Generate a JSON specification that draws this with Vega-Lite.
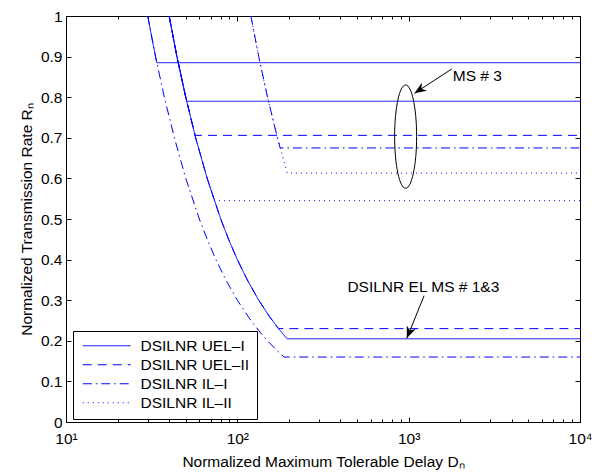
{
  "$schema": "https://vega.github.io/schema/vega-lite/v6.json",
  "width": 514,
  "height": 406,
  "autosize": "none",
  "padding": {"left": 66, "top": 16, "right": 12, "bottom": 51},
  "background": "white",
  "config": {
    "font": "Liberation Sans",
    "view": {"stroke": null},
    "axis": {
      "grid": false,
      "domainColor": "black",
      "domainWidth": 1,
      "tickColor": "black",
      "tickWidth": 1,
      "labelColor": "black",
      "labelFont": "Liberation Sans",
      "labelFontSize": 15.5,
      "titleFont": "Liberation Sans",
      "titleFontSize": 15.5,
      "titleFontWeight": "normal",
      "titleColor": "black"
    },
    "legend": {
      "orient": "none",
      "legendX": 7,
      "legendY": 315,
      "title": null,
      "symbolType": "M-1.67,0H14.33",
      "symbolSize": 36,
      "symbolStrokeColor": "#0000ff",
      "symbolStrokeWidth": 1,
      "labelFont": "Liberation Sans",
      "labelFontSize": 15.5,
      "labelColor": "black",
      "labelOffset": 45,
      "padding": 7,
      "rowPadding": 2,
      "strokeColor": "black",
      "fillColor": "white"
    }
  },
  "datasets": {
    "lines": [
      {"line": "A", "s": "DSILNR UEL–I", "D": 30, "R": 1},
      {"line": "A", "s": "DSILNR UEL–I", "D": 31.9, "R": 0.94},
      {"line": "A", "s": "DSILNR UEL–I", "D": 33.9, "R": 0.885},
      {"line": "A", "s": "DSILNR UEL–I", "D": 10000, "R": 0.885},
      {"line": "B", "s": "DSILNR UEL–I", "D": 40, "R": 1},
      {"line": "B", "s": "DSILNR UEL–I", "D": 44.4, "R": 0.9},
      {"line": "B", "s": "DSILNR UEL–I", "D": 50.6, "R": 0.79},
      {"line": "B", "s": "DSILNR UEL–I", "D": 10000, "R": 0.79},
      {"line": "C", "s": "DSILNR UEL–I", "D": 40, "R": 1},
      {"line": "C", "s": "DSILNR UEL–I", "D": 44.4, "R": 0.9},
      {"line": "C", "s": "DSILNR UEL–I", "D": 50, "R": 0.8},
      {"line": "C", "s": "DSILNR UEL–I", "D": 57.1, "R": 0.7},
      {"line": "C", "s": "DSILNR UEL–I", "D": 66.7, "R": 0.6},
      {"line": "C", "s": "DSILNR UEL–I", "D": 80, "R": 0.5},
      {"line": "C", "s": "DSILNR UEL–I", "D": 88.9, "R": 0.45},
      {"line": "C", "s": "DSILNR UEL–I", "D": 100, "R": 0.4},
      {"line": "C", "s": "DSILNR UEL–I", "D": 114.3, "R": 0.35},
      {"line": "C", "s": "DSILNR UEL–I", "D": 133.3, "R": 0.3},
      {"line": "C", "s": "DSILNR UEL–I", "D": 153.8, "R": 0.26},
      {"line": "C", "s": "DSILNR UEL–I", "D": 173.9, "R": 0.23},
      {"line": "C", "s": "DSILNR UEL–I", "D": 195, "R": 0.205},
      {"line": "C", "s": "DSILNR UEL–I", "D": 10000, "R": 0.205},
      {"line": "D", "s": "DSILNR UEL–II", "D": 40, "R": 1},
      {"line": "D", "s": "DSILNR UEL–II", "D": 44.4, "R": 0.9},
      {"line": "D", "s": "DSILNR UEL–II", "D": 50, "R": 0.8},
      {"line": "D", "s": "DSILNR UEL–II", "D": 56.7, "R": 0.706},
      {"line": "D", "s": "DSILNR UEL–II", "D": 10000, "R": 0.706},
      {"line": "E", "s": "DSILNR UEL–II", "D": 40, "R": 1},
      {"line": "E", "s": "DSILNR UEL–II", "D": 44.4, "R": 0.9},
      {"line": "E", "s": "DSILNR UEL–II", "D": 50, "R": 0.8},
      {"line": "E", "s": "DSILNR UEL–II", "D": 57.1, "R": 0.7},
      {"line": "E", "s": "DSILNR UEL–II", "D": 66.7, "R": 0.6},
      {"line": "E", "s": "DSILNR UEL–II", "D": 80, "R": 0.5},
      {"line": "E", "s": "DSILNR UEL–II", "D": 88.9, "R": 0.45},
      {"line": "E", "s": "DSILNR UEL–II", "D": 100, "R": 0.4},
      {"line": "E", "s": "DSILNR UEL–II", "D": 114.3, "R": 0.35},
      {"line": "E", "s": "DSILNR UEL–II", "D": 133.3, "R": 0.3},
      {"line": "E", "s": "DSILNR UEL–II", "D": 153.8, "R": 0.26},
      {"line": "E", "s": "DSILNR UEL–II", "D": 173.9, "R": 0.23},
      {"line": "E", "s": "DSILNR UEL–II", "D": 10000, "R": 0.23},
      {"line": "F", "s": "DSILNR IL–I", "D": 30, "R": 1},
      {"line": "F", "s": "DSILNR IL–I", "D": 33.3, "R": 0.9},
      {"line": "F", "s": "DSILNR IL–I", "D": 37.5, "R": 0.8},
      {"line": "F", "s": "DSILNR IL–I", "D": 42.9, "R": 0.7},
      {"line": "F", "s": "DSILNR IL–I", "D": 50, "R": 0.6},
      {"line": "F", "s": "DSILNR IL–I", "D": 60, "R": 0.5},
      {"line": "F", "s": "DSILNR IL–I", "D": 66.7, "R": 0.45},
      {"line": "F", "s": "DSILNR IL–I", "D": 75, "R": 0.4},
      {"line": "F", "s": "DSILNR IL–I", "D": 85.7, "R": 0.35},
      {"line": "F", "s": "DSILNR IL–I", "D": 100, "R": 0.3},
      {"line": "F", "s": "DSILNR IL–I", "D": 120, "R": 0.25},
      {"line": "F", "s": "DSILNR IL–I", "D": 136.4, "R": 0.22},
      {"line": "F", "s": "DSILNR IL–I", "D": 150, "R": 0.2},
      {"line": "F", "s": "DSILNR IL–I", "D": 166.7, "R": 0.18},
      {"line": "F", "s": "DSILNR IL–I", "D": 187.5, "R": 0.16},
      {"line": "F", "s": "DSILNR IL–I", "D": 10000, "R": 0.16},
      {"line": "G", "s": "DSILNR IL–I", "D": 120, "R": 1},
      {"line": "G", "s": "DSILNR IL–I", "D": 133.3, "R": 0.9},
      {"line": "G", "s": "DSILNR IL–I", "D": 150, "R": 0.8},
      {"line": "G", "s": "DSILNR IL–I", "D": 171.4, "R": 0.7},
      {"line": "G", "s": "DSILNR IL–I", "D": 177.8, "R": 0.675},
      {"line": "G", "s": "DSILNR IL–I", "D": 10000, "R": 0.675},
      {"line": "H", "s": "DSILNR IL–II", "D": 120, "R": 1},
      {"line": "H", "s": "DSILNR IL–II", "D": 133.3, "R": 0.9},
      {"line": "H", "s": "DSILNR IL–II", "D": 150, "R": 0.8},
      {"line": "H", "s": "DSILNR IL–II", "D": 171.4, "R": 0.7},
      {"line": "H", "s": "DSILNR IL–II", "D": 195.8, "R": 0.613},
      {"line": "H", "s": "DSILNR IL–II", "D": 10000, "R": 0.613},
      {"line": "I", "s": "DSILNR IL–II", "D": 40, "R": 1},
      {"line": "I", "s": "DSILNR IL–II", "D": 44.4, "R": 0.9},
      {"line": "I", "s": "DSILNR IL–II", "D": 50, "R": 0.8},
      {"line": "I", "s": "DSILNR IL–II", "D": 57.1, "R": 0.7},
      {"line": "I", "s": "DSILNR IL–II", "D": 66.7, "R": 0.6},
      {"line": "I", "s": "DSILNR IL–II", "D": 73.4, "R": 0.545},
      {"line": "I", "s": "DSILNR IL–II", "D": 10000, "R": 0.545}
    ],
    "arrows": [
      {"D": 1785, "R": 0.8695, "D2": 1080, "R2": 0.8096},
      {"D": 1230, "R": 0.311, "D2": 975, "R2": 0.206}
    ],
    "labels": [
      {"t": "MS # 3", "D": 1809, "R": 0.853},
      {"t": "DSILNR EL MS # 1&3", "D": 1218, "R": 0.333}
    ]
  },
  "layer": [
    {
      "data": {"name": "lines"},
      "mark": {"type": "line", "color": "#0000ff", "strokeWidth": 1, "clip": true},
      "encoding": {
        "x": {
          "field": "D", "type": "quantitative",
          "scale": {"type": "log", "domain": [10, 10000], "nice": false},
          "axis": {
            "orient": "bottom",
            "title": "Normalized Maximum Tolerable Delay Dₙ",
            "titlePadding": 6,
            "values": [10,20,30,40,50,60,70,80,90,100,200,300,400,500,600,700,800,900,1000,2000,3000,4000,5000,6000,7000,8000,9000,10000],
            "labelExpr": "datum.value == 10 ? '10¹' : datum.value == 100 ? '10²' : datum.value == 1000 ? '10³' : datum.value == 10000 ? '10⁴' : ''",
            "labelOverlap": false,
            "labelFlush": false,
            "tickSize": {"condition": {"test": "indexof([10,100,1000,10000], datum.value) >= 0", "value": -5}, "value": -3},
            "labelPadding": 14
          }
        },
        "y": {
          "field": "R", "type": "quantitative",
          "scale": {"domain": [0, 1], "nice": false, "zero": true},
          "axis": {
            "orient": "left",
            "title": "Normalized Transmission Rate Rₙ",
            "titlePadding": 6,
            "values": [0,0.1,0.2,0.3,0.4,0.5,0.6,0.7,0.8,0.9,1],
            "format": "~g",
            "labelFlush": false,
            "labelOverlap": false,
            "tickSize": -5,
            "labelPadding": 9
          }
        },
        "strokeDash": {
          "field": "s", "type": "nominal",
          "scale": {
            "domain": ["DSILNR UEL–I", "DSILNR UEL–II", "DSILNR IL–I", "DSILNR IL–II"],
            "range": [[1, 0], [9, 6], [9, 4, 1.5, 4], [1, 4]]
          },
          "legend": {
            "symbolStrokeColor": "#0000ff",
            "encode": {"symbols": {"update": {"stroke": {"value": "#0000ff"}, "strokeWidth": {"value": 1}}}}
          }
        },
        "detail": {"field": "line"}
      }
    },
    {
      "data": {"values": [{"D": 960, "R": 0.703}]},
      "mark": {
        "type": "point",
        "shape": "M0,-1C0.1176,-1,0.213,-0.5523,0.213,0C0.213,0.5523,0.1176,1,0,1C-0.1176,1,-0.213,0.5523,-0.213,0C-0.213,-0.5523,-0.1176,-1,0,-1Z",
        "size": 10671,
        "filled": false,
        "stroke": "black",
        "strokeWidth": 1,
        "opacity": 1
      },
      "encoding": {
        "x": {"field": "D", "type": "quantitative", "axis": null},
        "y": {"field": "R", "type": "quantitative", "axis": null}
      }
    },
    {
      "data": {"name": "arrows"},
      "mark": {"type": "rule", "color": "black", "strokeWidth": 1},
      "encoding": {
        "x": {"field": "D", "type": "quantitative", "axis": null},
        "y": {"field": "R", "type": "quantitative", "axis": null},
        "x2": {"field": "D2"},
        "y2": {"field": "R2"}
      }
    },
    {
      "data": {"values": [{"D": 1080, "R": 0.8096}]},
      "mark": {"type": "point", "shape": "M0,0L0.4,1L0,0.7L-0.4,1Z", "size": 576, "filled": true, "color": "black", "opacity": 1, "angle": 237, "strokeWidth": 0},
      "encoding": {
        "x": {"field": "D", "type": "quantitative", "axis": null},
        "y": {"field": "R", "type": "quantitative", "axis": null}
      }
    },
    {
      "data": {"values": [{"D": 975, "R": 0.206}]},
      "mark": {"type": "point", "shape": "M0,0L0.4,1L0,0.7L-0.4,1Z", "size": 576, "filled": true, "color": "black", "opacity": 1, "angle": 202, "strokeWidth": 0},
      "encoding": {
        "x": {"field": "D", "type": "quantitative", "axis": null},
        "y": {"field": "R", "type": "quantitative", "axis": null}
      }
    },
    {
      "data": {"name": "labels"},
      "transform": [{"filter": "datum.t == 'MS # 3'"}],
      "mark": {"type": "text", "align": "left", "baseline": "middle", "fontSize": 15.5, "font": "Liberation Sans", "color": "black"},
      "encoding": {
        "x": {"field": "D", "type": "quantitative", "axis": null},
        "y": {"field": "R", "type": "quantitative", "axis": null},
        "text": {"field": "t"}
      }
    },
    {
      "data": {"name": "labels"},
      "transform": [{"filter": "datum.t != 'MS # 3'"}],
      "mark": {"type": "text", "align": "center", "baseline": "middle", "fontSize": 15.5, "font": "Liberation Sans", "color": "black"},
      "encoding": {
        "x": {"field": "D", "type": "quantitative", "axis": null},
        "y": {"field": "R", "type": "quantitative", "axis": null},
        "text": {"field": "t"}
      }
    },
    {
      "data": {"values": [{"D": 10, "R": 0}]},
      "mark": {"type": "point", "opacity": 0},
      "encoding": {
        "x": {
          "field": "D", "type": "quantitative",
          "axis": {
            "orient": "top", "labels": false, "title": null,
            "values": [10,20,30,40,50,60,70,80,90,100,200,300,400,500,600,700,800,900,1000,2000,3000,4000,5000,6000,7000,8000,9000,10000],
            "tickSize": {"condition": {"test": "indexof([10,100,1000,10000], datum.value) >= 0", "value": -5}, "value": -3}
          }
        },
        "y": {
          "field": "R", "type": "quantitative",
          "axis": {
            "orient": "right", "labels": false, "title": null,
            "values": [0,0.1,0.2,0.3,0.4,0.5,0.6,0.7,0.8,0.9,1],
            "tickSize": -5
          }
        }
      }
    }
  ],
  "resolve": {"axis": {"x": "independent", "y": "independent"}}
}
